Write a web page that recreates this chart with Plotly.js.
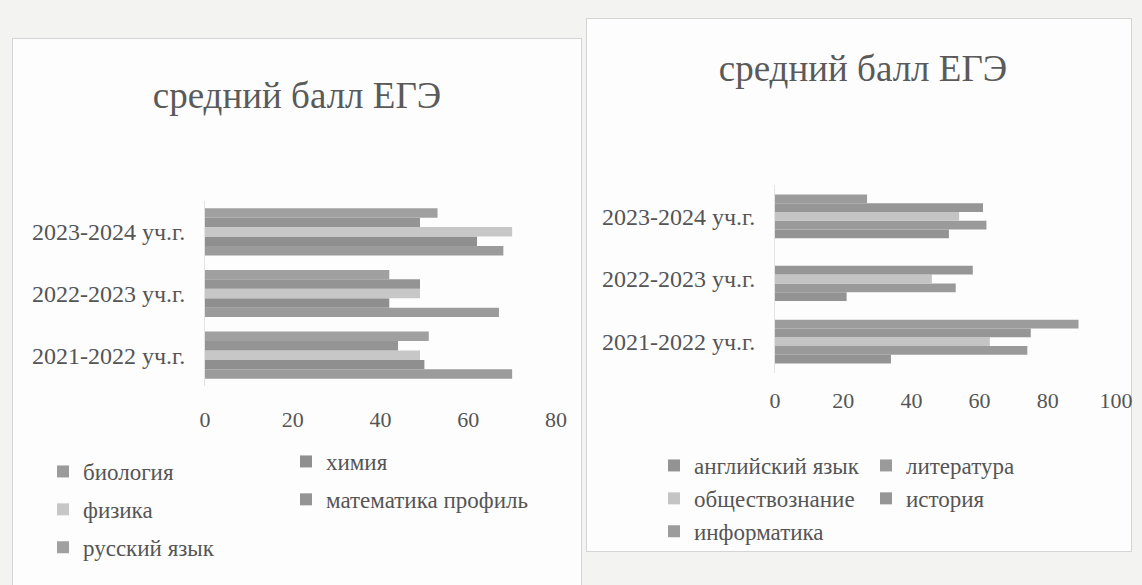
<!DOCTYPE html>
<html><head><meta charset="utf-8">
<script src="https://cdn.plot.ly/plotly-3.0.1.min.js"></script>
<style>
body{margin:0;background:#f3f3f1;width:1142px;height:585px;overflow:hidden;position:relative;}
#left{position:absolute;left:0;top:0;width:590px;height:585px;}
#right{position:absolute;left:590px;top:0;width:552px;height:585px;}
.box{position:absolute;border:1px solid #d4d4d4;background:#fdfdfd;}
</style></head><body>
<div class="box" style="left:12px;top:38px;width:568px;height:560px"></div>
<div class="box" style="left:586px;top:18px;width:544px;height:532px"></div>
<div id="left"></div><div id="right"></div>
<script>
// categories
const years = ['2021-2022 уч.г.', '2022-2023 уч.г.', '2023-2024 уч.г.'];
const chartTitle = 'средний балл ЕГЭ';

// left chart series
const biology = [70, 67, 68];
const chemistry = [50, 42, 62];
const physics = [49, 49, 70];
const mathProfile = [44, 49, 49];
const russian = [51, 42, 53];

// right chart series
const english = [34, 21, 51];
const literature = [74, 53, 62];
const socialStudies = [63, 46, 54];
const history = [75, 58, 61];
const informatics = [89, null, 27];

const FONT = "'Liberation Serif', 'DejaVu Serif', serif";
const TXT = '#555555';

function bar(name, vals, color, legend, group) {
  return {type: 'bar', orientation: 'h', name: name, x: vals, y: years,
    marker: {color: color, line: {width: 0}}, legend: legend, legendgroup: group,
    hoverinfo: 'none'};
}

function legendCfg(x, y, W, H, gap) {
  return {xref: 'container', yref: 'container', x: x / W, y: 1 - y / H,
    xanchor: 'left', yanchor: 'top', orientation: 'v', traceorder: 'grouped',
    tracegroupgap: gap, font: {family: FONT, size: 23, color: TXT},
    bgcolor: 'rgba(0,0,0,0)', borderwidth: 0, itemwidth: 30};
}

function baseLayout(o) {
  return {
    width: o.W, height: 585,
    margin: {l: o.l, r: o.r, t: o.t, b: o.b, pad: 0, autoexpand: false},
    paper_bgcolor: 'rgba(0,0,0,0)', plot_bgcolor: 'rgba(0,0,0,0)',
    font: {family: FONT, color: TXT, size: 22},
    title: {text: chartTitle, xref: 'container', yref: 'container',
      x: o.tx / o.W, y: 1 - o.ty / 585, xanchor: 'center', yanchor: 'middle',
      font: {family: FONT, size: 37, color: '#5a5a5a'}},
    barmode: 'group', bargap: o.bargap, bargroupgap: 0,
    xaxis: {range: [0, o.xmax], dtick: 20, tick0: 0, showgrid: false, zeroline: false,
      showline: false, ticks: '', ticklabelstandoff: o.xstand, automargin: false,
      tickfont: {family: FONT, size: 22, color: TXT}, fixedrange: true},
    yaxis: {type: 'category', categoryorder: 'array', categoryarray: years,
      showgrid: false, zeroline: false, showline: true, linecolor: '#e4e4e4', linewidth: 1,
      ticks: '', ticklabelstandoff: 14, automargin: false,
      tickfont: {family: FONT, size: 24, color: TXT}, fixedrange: true},
    legend: legendCfg(o.l1x, o.l1y, o.W, 585, o.gap),
    legend2: legendCfg(o.l2x, o.l2y, o.W, 585, o.gap),
    showlegend: true
  };
}

const leftTraces = [
  bar('биология', biology, '#9b9b9b', 'legend', 'a'),
  bar('химия', chemistry, '#8f8f8f', 'legend2', 'b'),
  bar('физика', physics, '#c7c7c7', 'legend', 'c'),
  bar('математика профиль', mathProfile, '#949494', 'legend2', 'd'),
  bar('русский язык', russian, '#a0a0a0', 'legend', 'e')
];
const rightTraces = [
  bar('английский язык', english, '#939393', 'legend', 'a'),
  bar('литература', literature, '#9a9a9a', 'legend2', 'b'),
  bar('обществознание', socialStudies, '#c4c4c4', 'legend', 'c'),
  bar('история', history, '#969696', 'legend2', 'd'),
  bar('информатика', informatics, '#9c9c9c', 'legend', 'e')
];

const cfg = {staticPlot: true, displayModeBar: false};

Plotly.newPlot('left', leftTraces, baseLayout({W: 590, l: 205, r: 34, t: 201, b: 199,
  tx: 297, ty: 95, bargap: 0.235, xmax: 80, xstand: 18,
  l1x: 43, l1y: 450, l2x: 286, l2y: 440, gap: 5}), cfg);

Plotly.newPlot('right', rightTraces, baseLayout({W: 552, l: 185, r: 26, t: 185, b: 212,
  tx: 273, ty: 68, bargap: 0.3, xmax: 100, xstand: 12,
  l1x: 64, l1y: 444, l2x: 276, l2y: 444, gap: 0}), cfg);
</script>
</body></html>
